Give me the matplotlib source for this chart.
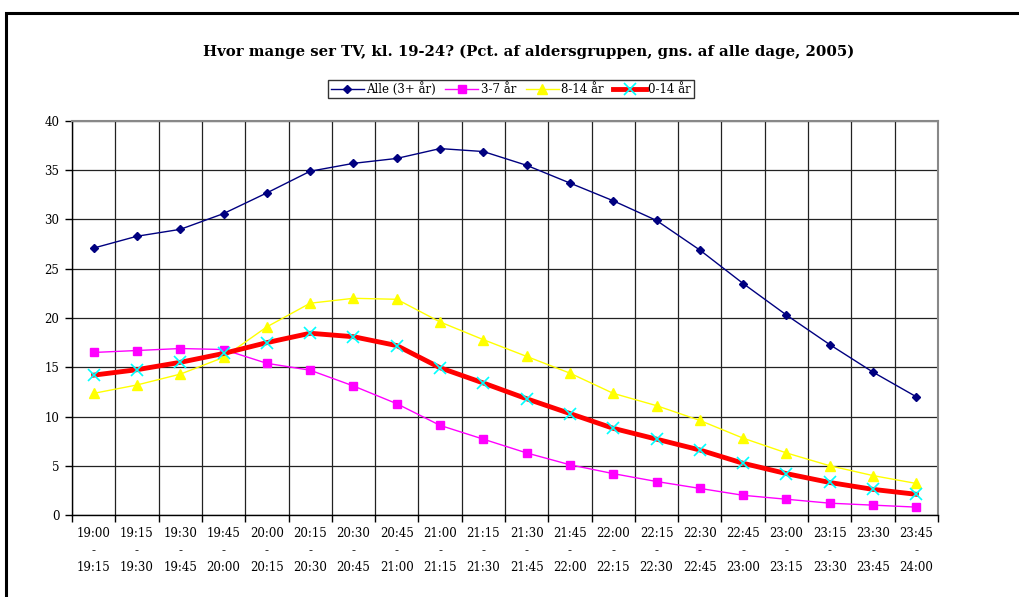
import numpy as np
import matplotlib
matplotlib.use("Agg")
import matplotlib.pyplot as plt
from matplotlib.patches import Rectangle

# --- Data ---
slots_from = ["19:00", "19:15", "19:30", "19:45", "20:00", "20:15", "20:30", "20:45",
              "21:00", "21:15", "21:30", "21:45", "22:00", "22:15", "22:30", "22:45",
              "23:00", "23:15", "23:30", "23:45"]
slots_to = ["19:15", "19:30", "19:45", "20:00", "20:15", "20:30", "20:45", "21:00",
            "21:15", "21:30", "21:45", "22:00", "22:15", "22:30", "22:45", "23:00",
            "23:15", "23:30", "23:45", "24:00"]

alle = [27.1, 28.3, 29.0, 30.6, 32.7, 34.9, 35.7, 36.2, 37.2, 36.9,
        35.5, 33.7, 31.9, 29.9, 26.9, 23.5, 20.3, 17.3, 14.5, 12.0]
age_3_7 = [16.5, 16.7, 16.9, 16.8, 15.4, 14.7, 13.1, 11.3, 9.1, 7.7,
           6.3, 5.1, 4.2, 3.4, 2.7, 2.0, 1.6, 1.2, 1.0, 0.8]
age_8_14 = [12.35, 13.2, 14.3, 16.0, 19.1, 21.5, 22.0, 21.9, 19.6, 17.8,
            16.1, 14.4, 12.35, 11.1, 9.6, 7.8, 6.3, 5.0, 4.0, 3.2]
age_0_14 = [14.2, 14.75, 15.5, 16.4, 17.5, 18.45, 18.1, 17.2, 14.95, 13.4,
            11.8, 10.3, 8.8, 7.7, 6.6, 5.25, 4.2, 3.3, 2.6, 2.1]

title = "Hvor mange ser TV, kl. 19-24? (Pct. af aldersgruppen, gns. af alle dage, 2005)"

plt.rcParams['font.family'] = ['DejaVu Serif', 'Liberation Serif']

fig = plt.figure(figsize=(10.19, 5.97), dpi=100)
W, H = 1019, 597
ax = fig.add_axes([72 / W, 1 - 515 / H, (938 - 72) / W, (515 - 121) / H])

x = np.arange(len(slots_from))

ax.plot(x, alle, color="#000080", lw=1.0, marker="D", ms=4.5, mec="#000080",
        label="Alle (3+ år)", zorder=4)
ax.plot(x, age_3_7, color="#FF00FF", lw=1.0, marker="s", ms=5.5,
        label="3-7 år", zorder=3)
ax.plot(x, age_8_14, color="#FFFF00", lw=1.0, marker="^", ms=6.5,
        label="8-14 år", zorder=3)
ax.plot(x, age_0_14, color="#FF0000", lw=3.5, marker="x", ms=8.5, mew=1.2,
        mec="#00FFFF", label="0-14 år", zorder=5)

ax.set_xlim(-0.5, len(x) - 0.5)
ax.set_ylim(0, 40)
ax.set_yticks(range(0, 41, 5))

# category boundaries get ticks + grid, labels sit at centres
ax.set_xticks(np.arange(-0.5, len(x), 1.0))
ax.set_xticklabels([])
ax.set_xticks(x, minor=True)
ax.set_xticklabels([f"{a}\n-\n{b}" for a, b in zip(slots_from, slots_to)],
                   minor=True, fontsize=8.5, linespacing=1.38)
ax.tick_params(axis='x', which='minor', length=0, pad=8.8)
ax.tick_params(axis='x', which='major', direction='out', length=5, width=1.0)
ax.tick_params(axis='y', direction='out', length=5, width=1.0, labelsize=8.5, pad=4)

ax.grid(which='major', color='#222222', lw=0.9)
ax.set_axisbelow(True)

for s in ["top", "right"]:
    ax.spines[s].set_color("#888888")
    ax.spines[s].set_linewidth(1.5)
for s in ["left", "bottom"]:
    ax.spines[s].set_color("black")
    ax.spines[s].set_linewidth(1.0)

fig.text(529 / W, 1 - 52 / H, title, ha="center", va="center",
         fontsize=10.7, fontweight="bold")

leg = fig.legend(loc="center", bbox_to_anchor=(511 / W, 1 - 89 / H), ncol=4,
                 fontsize=8.5, frameon=True, fancybox=False, handlelength=2.8,
                 handletextpad=0.2, columnspacing=0.8, borderpad=0.2,
                 edgecolor="black")
leg.get_frame().set_linewidth(1.0)

# outer chart frame (runs off the right and bottom edges)
fig.patches.append(Rectangle((6 / W, -0.1), 1.2, 1 - 13 / H + 0.1,
                             transform=fig.transFigure, fill=False,
                             edgecolor="black", lw=2.2))

fig.savefig("out.png", dpi=100)
